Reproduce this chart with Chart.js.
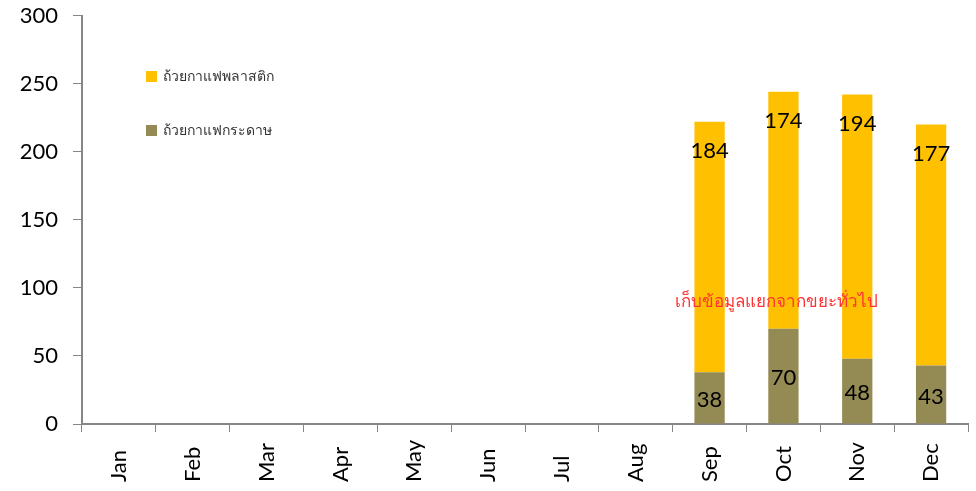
<!DOCTYPE html>
<html>
<head>
<meta charset="utf-8">
<script src="https://cdn.jsdelivr.net/npm/chart.js@4/dist/chart.umd.min.js"></script>
<style>
  body { margin: 0; background: #fff; }
  #wrap { width: 976px; height: 491px; position: relative; }
</style>
</head>
<body>
<div id="wrap"><canvas id="cupChart"></canvas></div>
<script>
const months = ["Jan", "Feb", "Mar", "Apr", "May", "Jun", "Jul", "Aug", "Sep", "Oct", "Nov", "Dec"];
const paperCups = [null, null, null, null, null, null, null, null, 38, 70, 48, 43];
const plasticCups = [null, null, null, null, null, null, null, null, 184, 174, 194, 177];
const yTicks = [0, 50, 100, 150, 200, 250, 300];
const noteText = "เก็บข้อมูลแยกจากขยะทั่วไป";

const FONT = "Lato, 'Noto Sans', 'DejaVu Sans', sans-serif";

// data labels, month labels, inside legend, red note
const extrasPlugin = {
    id: "extras",
    afterDatasetsDraw(chart) {
        const ctx = chart.ctx;
        const xs = chart.scales.x;
        const ys = chart.scales.y;
        ctx.save();
        ctx.font = "22px " + FONT;
        ctx.fillStyle = "#000";
        ctx.textAlign = "center";
        ctx.textBaseline = "middle";

        // paper: centered in segment
        chart.getDatasetMeta(0).data.forEach((bar, i) => {
            if (paperCups[i] == null) return;
            ctx.fillText(String(paperCups[i]), bar.x, (bar.y + bar.base) / 2 + 2);
        });
        // plastic: near top of segment
        chart.getDatasetMeta(1).data.forEach((bar, i) => {
            if (plasticCups[i] == null) return;
            ctx.fillText(String(plasticCups[i]), bar.x, bar.y + 29);
        });

        // month labels, rotated, starting from the bottom like Excel does
        ctx.textAlign = "left";
        months.forEach((m, i) => {
            ctx.save();
            ctx.translate(xs.getPixelForValue(i), xs.bottom - 9);
            ctx.rotate(-Math.PI / 2);
            ctx.fillText(m, 0, 0);
            ctx.restore();
        });

        // legend inside plot
        const items = [
            { label: "ถ้วยกาแฟพลาสติก", color: "#FFC000", y: 76 },
            { label: "ถ้วยกาแฟกระดาษ", color: "#948A54", y: 130 },
        ];
        ctx.font = "14px " + FONT;
        items.forEach((it) => {
            ctx.fillStyle = it.color;
            ctx.fillRect(146, it.y - 5, 11, 11);
            ctx.fillStyle = "#333";
            ctx.fillText(it.label, 163, it.y);
        });

        // red note, centred over Oct
        ctx.font = "17px " + FONT;
        ctx.fillStyle = "#FF3333";
        ctx.textAlign = "center";
        ctx.fillText(noteText, xs.getPixelForValue(9) - 7, ys.getPixelForValue(90));
        ctx.restore();
    },
};

const cupChart = new Chart(document.getElementById("cupChart").getContext("2d"), {
    type: "bar",
    data: {
        labels: months,
        datasets: [
            {
                label: "ถ้วยกาแฟกระดาษ",
                data: paperCups,
                backgroundColor: "#948A54",
                barPercentage: 0.41,
                categoryPercentage: 1.0,
            },
            {
                label: "ถ้วยกาแฟพลาสติก",
                data: plasticCups,
                backgroundColor: "#FFC000",
                barPercentage: 0.41,
                categoryPercentage: 1.0,
            },
        ],
    },
    options: {
        responsive: true,
        maintainAspectRatio: false,
        animation: false,
        layout: { padding: { top: 0, right: 8, left: 0, bottom: 0 } },
        plugins: {
            legend: { display: false },
            tooltip: { enabled: false },
        },
        scales: {
            x: {
                stacked: true,
                afterFit: (axis) => { axis.height = 67; },
                grid: { drawOnChartArea: false, drawTicks: true, tickLength: 8, color: "#868686", offset: true },
                border: { color: "#868686", width: 2 },
                ticks: { display: false },
            },
            y: {
                stacked: true,
                min: 0,
                max: 300,
                afterBuildTicks: (axis) => { axis.ticks = yTicks.map((v) => ({ value: v })); },
                afterFit: (axis) => { axis.width = 82; },
                grid: { drawOnChartArea: false, drawTicks: true, tickLength: 9, color: "#868686" },
                border: { color: "#868686", width: 2 },
                ticks: {
                    color: "#000",
                    // tiny lineHeight keeps the top label from pushing the plot down
                    font: { family: FONT, size: 22, lineHeight: 0.05 },
                    padding: 15,
                },
            },
        },
    },
    plugins: [extrasPlugin],
});
</script>
</body>
</html>
